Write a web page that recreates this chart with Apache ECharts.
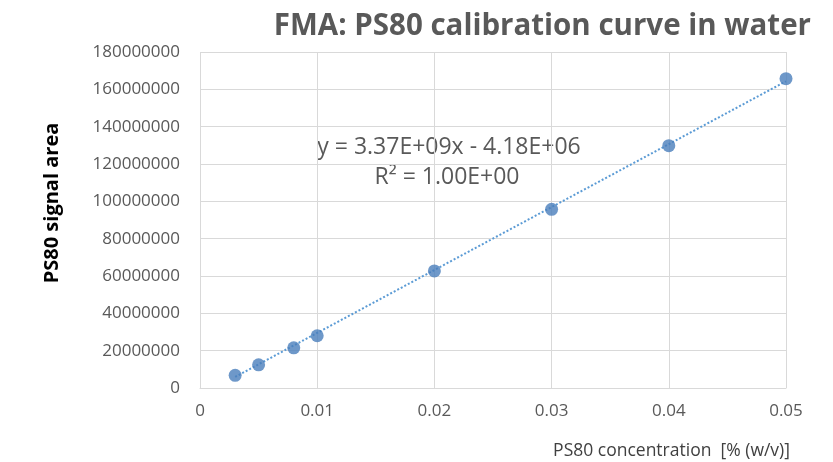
<!DOCTYPE html>
<html><head><meta charset="utf-8">
<script src="https://cdn.jsdelivr.net/npm/echarts@6/dist/echarts.min.js"></script>
<style>html,body{margin:0;padding:0;background:#fff}#c{width:833px;height:462px}</style>
</head><body><div id="c"></div>
<script>
var concentration = [0.003, 0.005, 0.008, 0.01, 0.02, 0.03, 0.04, 0.05];
var signalArea = [6800000, 12400000, 21500000, 28000000, 62700000, 95700000, 129800000, 165700000];
var trendSlope = 3.37e9;
var trendIntercept = -4.18e6;
var titleText = 'FMA: PS80 calibration curve in water';
var eqLine1 = 'y = 3.37E+09x - 4.18E+06';
var eqLine2 = 'R² = 1.00E+00';

var pts = concentration.map(function (x, i) { return [x, signalArea[i]]; });
var xMinD = Math.min.apply(null, concentration), xMaxD = Math.max.apply(null, concentration);
var trend = [[xMinD, trendSlope * xMinD + trendIntercept], [xMaxD, trendSlope * xMaxD + trendIntercept]];

var FONT = '"Open Sans", sans-serif';
var TXT = '#595959';
var chart = echarts.init(document.getElementById('c'));
chart.setOption({
  animation: false,
  title: { text: titleText, right: 17, top: 7,
    textStyle: { fontFamily: FONT, fontWeight: 'bold', fontSize: 29.5, color: TXT } },
  grid: { left: 200, right: 47, top: 52, bottom: 74 },
  xAxis: {
    type: 'value', min: 0, max: 0.05, interval: 0.01,
    name: 'PS80 concentration  [% (w/v)]', nameLocation: 'end',
    nameGap: 0,
    nameTextStyle: { fontFamily: FONT, fontSize: 17.5, color: '#404040', align: 'right', verticalAlign: 'top', padding: [54, -4, 0, 0] },
    axisLine: { show: true, lineStyle: { color: '#d9d9d9' } },
    axisTick: { show: false },
    axisLabel: { fontFamily: FONT, fontSize: 17, color: TXT, margin: 15,
      formatter: function (v) { return String(+v.toFixed(2)); } },
    splitLine: { show: true, lineStyle: { color: '#d9d9d9' } }
  },
  yAxis: {
    type: 'value', min: 0, max: 180000000, interval: 20000000,
    name: 'PS80 signal area', nameLocation: 'middle', nameGap: 138, nameRotate: 90,
    nameTextStyle: { fontFamily: FONT, fontSize: 20, fontWeight: 'bold', color: '#000', padding: [0, 0, 0, 34] },
    axisLine: { show: false },
    axisTick: { show: false },
    axisLabel: { fontFamily: FONT, fontSize: 17, color: TXT, margin: 20,
      formatter: function (v) { return String(v); } },
    splitLine: { show: true, lineStyle: { color: '#d9d9d9' } }
  },
  graphic: [
    { type: 'text', x: 449, y: 147, style: { text: eqLine1, font: '23px "Open Sans", sans-serif', fill: TXT, textAlign: 'center', textVerticalAlign: 'middle' } },
    { type: 'text', x: 447, y: 177, style: { text: eqLine2, font: '23px "Open Sans", sans-serif', fill: TXT, textAlign: 'center', textVerticalAlign: 'middle' } }
  ],
  series: [
    { type: 'line', data: trend, symbol: 'none', silent: true, z: 2,
      lineStyle: { color: '#5b9bd5', width: 2, type: [2, 2] } },
    { type: 'scatter', data: pts, symbol: 'circle', symbolSize: 13, z: 3,
      itemStyle: { color: '#4a7ebb' } }
  ]
});
</script></body></html>
